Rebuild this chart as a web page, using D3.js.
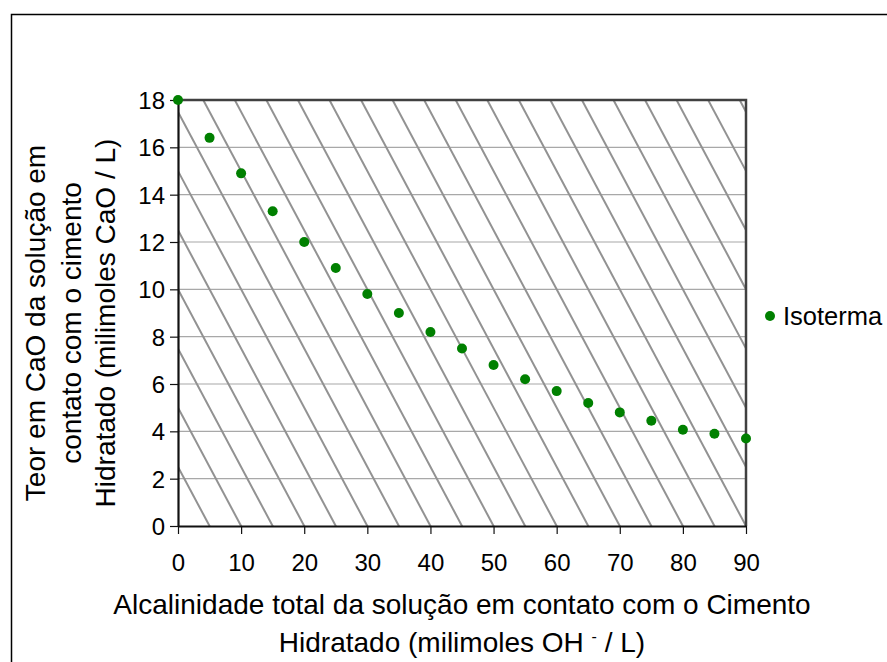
<!DOCTYPE html>
<html>
<head>
<meta charset="utf-8">
<script src="https://cdn.jsdelivr.net/npm/d3@7"></script>
<style>
  html, body { margin: 0; padding: 0; background: #fff; overflow: hidden; }
  svg { display: block; font-family: "Liberation Sans", Arial, sans-serif; }
</style>
</head>
<body>
<div id="chart"></div>
<script>
// Isoterma data
const alcalinidade = [0, 5, 10, 15, 20, 25, 30, 35, 40, 45, 50, 55, 60, 65, 70, 75, 80, 85, 90];
const teorCaO = [18, 16.4, 14.9, 13.3, 12.0, 10.9, 9.8, 9.0, 8.2, 7.5, 6.8, 6.2, 5.7, 5.2, 4.8, 4.45, 4.07, 3.9, 3.7];
const xTicks = [0, 10, 20, 30, 40, 50, 60, 70, 80, 90];
const yTicks = [0, 2, 4, 6, 8, 10, 12, 14, 16, 18];
const seriesName = 'Isoterma';

const width = 887, height = 662;
const plot = { left: 178, top: 100, right: 746, bottom: 526 };

const svg = d3.select('#chart').append('svg')
    .attr('width', width)
    .attr('height', height);

// outer frame
svg.append('rect')
    .attr('x', 11.5).attr('y', 14.5)
    .attr('width', 1000).attr('height', 1000)
    .attr('fill', 'none')
    .attr('stroke', '#000')
    .attr('stroke-width', 1.5);

const x = d3.scaleLinear().domain([0, 90]).range([plot.left, plot.right]);
const y = d3.scaleLinear().domain([0, 18]).range([plot.bottom, plot.top]);

svg.append('clipPath').attr('id', 'clip')
  .append('rect')
    .attr('x', plot.left).attr('y', plot.top)
    .attr('width', plot.right - plot.left)
    .attr('height', plot.bottom - plot.top);

// gridlines
svg.append('g')
  .selectAll('line')
  .data(yTicks.slice(1, -1))
  .join('line')
    .attr('x1', plot.left).attr('x2', plot.right)
    .attr('y1', d => y(d)).attr('y2', d => y(d))
    .attr('stroke', '#a8a8a8')
    .attr('stroke-width', 1.2);

// diagonal hatch (y = 2.5k - x/2)
const hatchK = d3.range(1, 26);
svg.append('g')
    .attr('clip-path', 'url(#clip)')
  .selectAll('line')
  .data(hatchK)
  .join('line')
    .attr('x1', d => x(-10)).attr('y1', d => y(2.5 * d + 5))
    .attr('x2', d => x(5 * d + 10)).attr('y2', d => y(-5))
    .attr('stroke', '#929292')
    .attr('stroke-width', 2);

// plot border (top / right)
svg.append('path')
    .attr('d', `M${plot.left},${plot.top}H${plot.right}V${plot.bottom}`)
    .attr('fill', 'none')
    .attr('stroke', '#404040')
    .attr('stroke-width', 2.5);

// axes
const xAxis = svg.append('g')
    .attr('transform', `translate(0,${plot.bottom})`)
    .call(d3.axisBottom(x).tickValues(xTicks).tickSizeOuter(0).tickSizeInner(8).tickPadding(20));
const yAxis = svg.append('g')
    .attr('transform', `translate(${plot.left},0)`)
    .call(d3.axisLeft(y).tickValues(yTicks).tickSizeOuter(0).tickSizeInner(8).tickPadding(5));

[xAxis, yAxis].forEach(a => {
  a.select('.domain').attr('stroke', '#111').attr('stroke-width', 2.2);
  a.selectAll('.tick line').attr('stroke', '#111').attr('stroke-width', 1.2);
  a.selectAll('.tick text')
      .attr('font-family', '"Liberation Sans", Arial, sans-serif')
      .attr('font-size', 24)
      .attr('fill', '#000');
});
yAxis.selectAll('.tick text').attr('dy', '0.36em');

// points
svg.append('g')
  .selectAll('circle')
  .data(alcalinidade.map((v, i) => [v, teorCaO[i]]))
  .join('circle')
    .attr('cx', d => x(d[0]))
    .attr('cy', d => y(d[1]))
    .attr('r', 5)
    .attr('fill', '#008000');

// legend
const legend = svg.append('g').attr('transform', 'translate(770,316)');
legend.append('circle').attr('r', 5).attr('fill', '#008000');
legend.append('text')
    .attr('x', 13).attr('y', 9)
    .attr('font-size', 25.5)
    .text(seriesName);

// x title
const xt = svg.append('text')
    .attr('text-anchor', 'middle')
    .attr('font-size', 28);
xt.append('tspan').attr('x', (plot.left + plot.right) / 2).attr('y', 614)
    .text('Alcalinidade total da solução em contato com o Cimento');
const l2 = xt.append('tspan').attr('x', (plot.left + plot.right) / 2).attr('y', 652)
    .text('Hidratado (milimoles OH ');
l2.append('tspan').attr('font-size', 16).attr('dy', -10).text('-');
l2.append('tspan').attr('dy', 10).text(' / L)');

// y title
const yt = svg.append('text')
    .attr('text-anchor', 'middle')
    .attr('transform', `translate(0,323) rotate(-90)`)
    .attr('font-size', 28);
[['Teor em CaO da solução em', 45], ['contato  com o cimento', 81], ['Hidratado (milimoles CaO / L)', 115]]
  .forEach(([t, cx]) => {
    yt.append('tspan').attr('x', 0).attr('y', cx).text(t);
  });
</script>
</body>
</html>
